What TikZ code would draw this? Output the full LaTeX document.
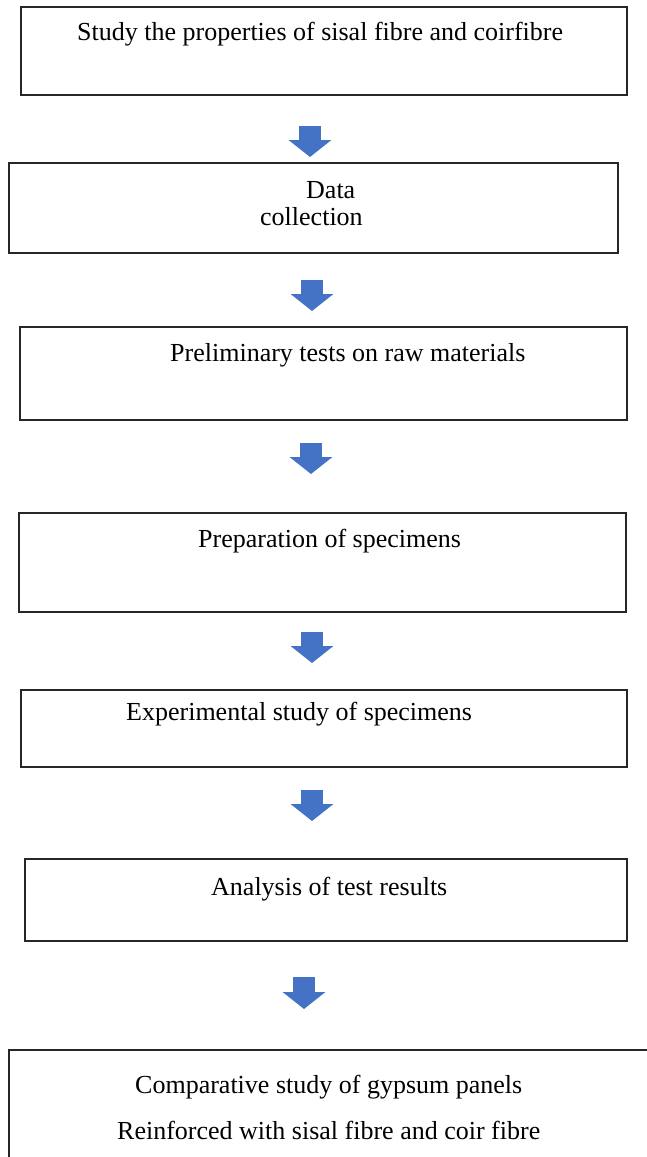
\documentclass[tikz,border=0pt]{standalone}
\usepackage{fontspec}
\setmainfont{Liberation Serif}
\usetikzlibrary{arrows.meta}
\definecolor{arrowblue}{HTML}{4472C4}

\begin{document}
\begin{tikzpicture}[x=1pt,y=-1pt,
  box/.style={draw=black!85,line width=1.6pt,inner sep=0pt,outer sep=0pt,anchor=north west},
  txt/.style={anchor=base west,inner sep=0pt,font=\fontsize{26}{27}\selectfont},
  blockarrow/.style={draw=arrowblue,line width=22pt,-{Triangle[width=42pt,length=17pt]}}]

 \useasboundingbox (0,0) rectangle (647,1157);

 \node[box,minimum width=606pt,minimum height=88pt] (box1) at (21,7) {};
 \node[box,minimum width=609pt,minimum height=90pt] (box2) at (9,163) {};
 \node[box,minimum width=607pt,minimum height=93pt] (box3) at (20,327) {};
 \node[box,minimum width=607pt,minimum height=99pt] (box4) at (19,513) {};
 \node[box,minimum width=606pt,minimum height=77pt] (box5) at (21,690) {};
 \node[box,minimum width=602pt,minimum height=82pt] (box6) at (25,859) {};
 \node[box,minimum width=660pt,minimum height=130pt] (box7) at (9,1050) {};

 \node[txt] (study) at (77,40) {Study the properties of sisal fibre and coirfibre};
 \node[txt,align=left] (data) at (260,225) {\hspace*{46pt}Data\\collection};
 \node[txt] (prelim) at (170,361) {Preliminary tests on raw materials};
 \node[txt] (prep) at (198,547) {Preparation of specimens};
 \node[txt] (exper) at (126,720) {Experimental study of specimens};
 \node[txt] (analysis) at (211,895) {Analysis of test results};
 \node[txt] (compare) at (135,1093) {Comparative study of gypsum panels};
 \node[txt] (reinf) at (117,1139) {Reinforced with sisal fibre and coir fibre};

 \coordinate (a1s) at (310,126);  \coordinate (a1e) at (310,157);
 \coordinate (a2s) at (312,280);  \coordinate (a2e) at (312,311);
 \coordinate (a3s) at (311,443);  \coordinate (a3e) at (311,474);
 \coordinate (a4s) at (312,632);  \coordinate (a4e) at (312,663);
 \coordinate (a5s) at (312,790);  \coordinate (a5e) at (312,821);
 \coordinate (a6s) at (304,977);  \coordinate (a6e) at (304,1009);

 \draw[blockarrow] (a1s) -- (a1e);
 \draw[blockarrow] (a2s) -- (a2e);
 \draw[blockarrow] (a3s) -- (a3e);
 \draw[blockarrow] (a4s) -- (a4e);
 \draw[blockarrow] (a5s) -- (a5e);
 \draw[blockarrow] (a6s) -- (a6e);

\end{tikzpicture}
\end{document}
